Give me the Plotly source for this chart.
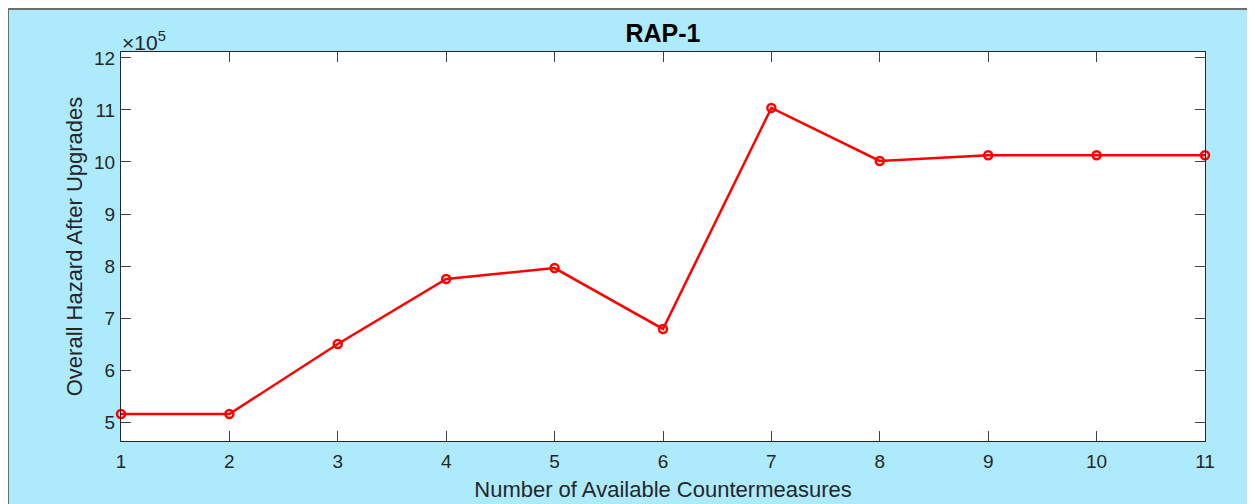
import plotly.graph_objects as go

countermeasures = [1, 2, 3, 4, 5, 6, 7, 8, 9, 10, 11]
hazard = [515400, 515400, 650000, 775000, 796000, 679000, 1104000, 1002000, 1013000, 1013000, 1013000]
y_tick_vals = [500000, 600000, 700000, 800000, 900000, 1000000, 1100000, 1200000]
y_tick_text = ["5", "6", "7", "8", "9", "10", "11", "12"]
x_tick_vals = [1, 2, 3, 4, 5, 6, 7, 8, 9, 10, 11]

# page body has an 8px margin; figure-local coordinates below
W, H = 1255, 504
L, R, T, B = 113, 1197, 44, 433
pw, ph = R - L, B - T

def px(x):
    return (x - L) / pw

def py(y):
    return (B - y) / ph

FONT = "Liberation Sans, Arial, Helvetica"
TXT = "#262626"
BLUE = "#ADEBFC"

fig = go.Figure()
fig.add_trace(go.Scatter(
    x=countermeasures, y=hazard, mode="lines+markers",
    line=dict(color="#FF0000", width=2.5),
    marker=dict(symbol="circle-open", size=8, color="#FF0000", line=dict(width=2.5, color="#FF0000")),
    showlegend=False, cliponaxis=False,
))

axis_common = dict(
    showgrid=False, zeroline=False, showline=True, linecolor=TXT, linewidth=1,
    mirror="ticks", ticks="inside", ticklen=10, tickcolor="#404040", tickwidth=1,
    tickfont=dict(family=FONT, size=19, color=TXT),
)

fig.update_layout(
    width=W, height=H,
    margin=dict(l=L, r=W - R, t=T, b=H - B),
    paper_bgcolor=BLUE, plot_bgcolor="white",
    title=dict(text="<b>RAP-1</b>", x=(L + R) / 2 / W, xanchor="center", y=1 - 25 / H, yanchor="middle",
               font=dict(family=FONT, size=25, color="#000000")),
    xaxis=dict(range=[1, 11], tickvals=x_tick_vals, ticklabelstandoff=3,
               title=dict(text="Number of Available Countermeasures", standoff=10,
                          font=dict(family=FONT, size=22, color=TXT)),
               **axis_common),
    yaxis=dict(range=[463500, 1211500], tickvals=y_tick_vals, ticktext=y_tick_text,
               ticklabelstandoff=1,
               title=dict(text="Overall Hazard After Upgrades", standoff=5,
                          font=dict(family=FONT, size=22, color=TXT)),
               **axis_common),
    shapes=[
        dict(type="line", xref="paper", yref="paper", x0=px(0), x1=px(W), y0=py(1), y1=py(1),
             line=dict(color="#6E6E6E", width=2)),
        dict(type="line", xref="paper", yref="paper", x0=px(0), x1=px(0), y0=py(0), y1=py(H),
             line=dict(color="#6E6E6E", width=2)),
    ],
    annotations=[dict(text="×10<sup>5</sup>", xref="paper", yref="paper", x=px(112), y=py(33),
                      xanchor="left", yanchor="middle", showarrow=False,
                      font=dict(family=FONT, size=21, color=TXT))],
)

fig.write_html("out.html")
